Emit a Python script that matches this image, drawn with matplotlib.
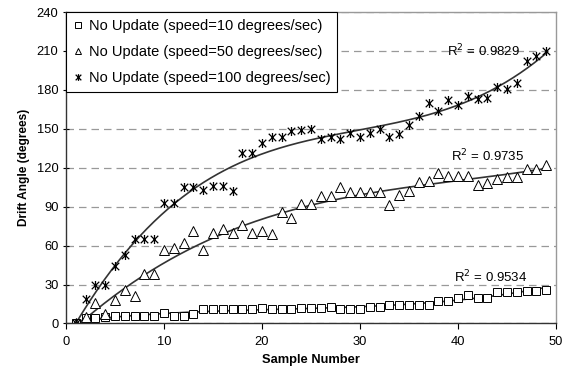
import numpy as np
import matplotlib.pyplot as plt
from matplotlib.path import Path

plt.rcParams['font.family'] = ['Liberation Sans', 'DejaVu Sans']

# Sample numbers
samples = np.arange(1, 50)

# Drift angle (degrees)
speed10 = [0, 4, 4, 5, 6, 6, 6, 6, 6, 8, 6, 6, 7, 11, 11, 11, 11, 11, 11, 12,
           11, 11, 11, 12, 12, 12, 13, 11, 11, 11, 13, 13, 14, 14, 14, 14, 14, 17, 17, 20,
           22, 20, 20, 24, 24, 24, 25, 25, 26]
speed50 = [0, 5, 16, 7, 18, 26, 21, 38, 38, 57, 58, 62, 71, 57, 70, 73, 70, 76, 70, 71,
           69, 86, 81, 92, 92, 98, 98, 105, 101, 101, 101, 101, 91, 99, 102, 109, 110, 116, 114, 114,
           114, 107, 108, 111, 113, 113, 119, 119, 122]
speed100 = [0, 19, 30, 30, 44, 53, 65, 65, 65, 93, 93, 105, 105, 103, 106, 106, 102, 131, 131, 139,
            144, 144, 148, 149, 150, 142, 144, 142, 147, 144, 147, 150, 144, 146, 153, 160, 170, 164, 172, 168,
            175, 173, 174, 182, 181, 185, 202, 206, 210]

labels = ['No Update (speed=10 degrees/sec)',
          'No Update (speed=50 degrees/sec)',
          'No Update (speed=100 degrees/sec)']
r2_text = ['0.9534', '0.9735', '0.9829']

# Excel-style star marker: an x with a vertical bar through it
star = Path([(-1, -1), (1, 1), (-1, 1), (1, -1), (0, -1.2), (0, 1.2)],
            [Path.MOVETO, Path.LINETO, Path.MOVETO, Path.LINETO, Path.MOVETO, Path.LINETO])

fig = plt.figure(figsize=(5.65, 3.77), dpi=100)
ax = fig.add_axes([0.117, 0.142, 0.867, 0.826])

ax.plot(samples, speed10, 's', ms=5.5, mfc='white', mec='black', mew=0.7, ls='none', label=labels[0])
ax.plot(samples, speed50, '^', ms=6.5, mfc='white', mec='black', mew=0.7, ls='none', label=labels[1])
ax.plot(samples, speed100, marker=star, ms=6.5, mfc='none', mec='black', mew=0.9, ls='none', label=labels[2])

# polynomial trendlines
xs = np.linspace(1, 49, 200)
for ys in (speed10, speed50, speed100):
    coef = np.polyfit(samples, ys, 3)
    ax.plot(xs, np.polyval(coef, xs), color='#333333', lw=1.2, zorder=1)

ax.text(39.6, 36, 'R$^2$ = ' + r2_text[0], fontsize=9.5, va='center')
ax.text(39.3, 129, 'R$^2$ = ' + r2_text[1], fontsize=9.5, va='center')
ax.text(38.9, 210, 'R$^2$ = ' + r2_text[2], fontsize=9.5, va='center')

ax.set_xlim(0, 50)
ax.set_ylim(0, 240)
ax.set_xticks(range(0, 51, 10))
ax.set_yticks(range(0, 241, 30))
ax.yaxis.grid(True, ls=(0, (6, 4)), color='#999999', lw=0.9)
ax.set_axisbelow(True)
ax.tick_params(axis='y', direction='inout', length=5, labelsize=9.3, width=0.8, pad=3)
ax.tick_params(axis='x', direction='out', length=4, labelsize=9.3, width=0.8, pad=5)
for s in ['left', 'bottom']:
    ax.spines[s].set_color('#333333')
    ax.spines[s].set_linewidth(1.0)
for s in ['top', 'right']:
    ax.spines[s].set_color('#999999')
    ax.spines[s].set_linewidth(1.0)

ax.set_xlabel('Sample Number', fontsize=9.3, fontweight='bold', labelpad=4)
ax.set_ylabel('Drift Angle (degrees)', fontsize=8.6, fontweight='bold', labelpad=5)

leg = ax.legend(loc='upper left', bbox_to_anchor=(0, 1), borderaxespad=0, fontsize=10.5,
                frameon=True, fancybox=False, edgecolor='black', framealpha=1, markerscale=0.75,
                labelspacing=0.85, handlelength=0.7, handletextpad=0.4, borderpad=0.45)
leg.get_frame().set_linewidth(0.8)

plt.savefig('out.png', dpi=100)
